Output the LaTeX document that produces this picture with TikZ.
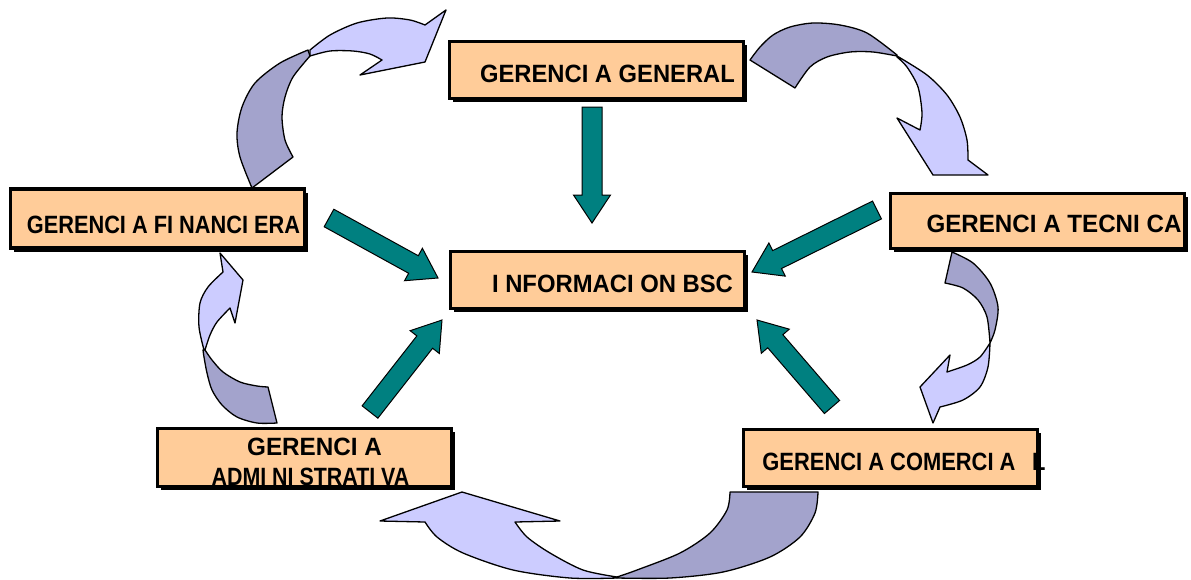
\documentclass[tikz,border=0pt]{standalone}
\usepackage{fontspec}
\setmainfont{Liberation Sans}
\usetikzlibrary{calc,shadows}
\definecolor{peach}{RGB}{255,204,153}
\definecolor{tealfill}{RGB}{0,128,128}
\definecolor{lavlight}{RGB}{204,204,255}
\definecolor{lavdark}{RGB}{163,163,204}

\tikzset{
  box/.style={draw=black, line width=3.5pt, fill=peach, minimum width=294pt,
    minimum height=57pt, inner sep=0pt, outer sep=0pt,
    drop shadow={shadow xshift=3.5pt, shadow yshift=-3.5pt, fill=black, opacity=1}},
  lbl/.style={font=\fontsize{25pt}{28pt}\selectfont\bfseries, inner sep=0pt, text=black},
  lavfront/.style={fill=lavlight, draw=black, line width=1.3pt, line join=round},
  lavback/.style={fill=lavdark, draw=black, line width=1.3pt, line join=round},
  tealarr/.style={fill=tealfill, draw=black, line width=1pt, line join=miter},
}

% straight block arrow from #1 to #2
\newcommand\tealarrow[2]{%
  \filldraw[tealarr] let \p1=(#1), \p2=(#2),
    \n1={atan2(\y2-\y1,\x2-\x1)}, \n2={veclen(\x2-\x1,\y2-\y1)} in
    [shift={(\p1)}, rotate=\n1]
    (0pt,10pt) -- ({\n2*1pt-28pt},10pt) -- ({\n2*1pt-28pt},18.5pt) -- ({\n2*1pt},0pt)
    -- ({\n2*1pt-28pt},-18.5pt) -- ({\n2*1pt-28pt},-10pt) -- (0pt,-10pt) -- cycle;}

\begin{document}
\begin{tikzpicture}[x=1pt,y=-1pt]
\fill[white] (0,0) rectangle (1191,579);
\useasboundingbox (0,0) rectangle (1191,579);
\clip (0,0) rectangle (1191,579);

% ---- curved arrows of the cycle ----
% financiera -> general
\filldraw[lavfront] (310,56) -- plot[smooth] coordinates {(310,50) (330,35) (357,23) (387,18) (410,20) (425,25)}
  -- (446,10) -- (425,62) -- (360,75) -- (382,60)
  -- plot[smooth] coordinates {(382,60) (370,54) (353,51) (330,51) (310,56)} -- cycle;
\filldraw[lavback] (252,188) -- plot[smooth] coordinates {(252,188) (240,157) (237,133) (242,107) (255,83) (280,63) (308,50)}
  -- plot[smooth] coordinates {(310,56) (293,77) (285,97) (282,117) (285,140) (293,157)} -- cycle;

% general -> tecnica
\filldraw[lavfront] (897,56) -- plot[smooth] coordinates {(897,56) (927,75) (947,95) (960,117) (967,140) (968,160)}
  -- (988,175) -- (933,175) -- (897,118) -- (920,130)
  -- plot[smooth] coordinates {(920,130) (922,113) (918,87) (907,67) (897,57)} -- cycle;
\filldraw[lavback] (750,60) -- plot[smooth] coordinates {(750,60) (760,47) (773,35) (790,27) (813,23) (840,25) (867,33) (897,55)}
  -- plot[smooth] coordinates {(897,56) (873,52) (850,52) (827,57) (810,67) (795,88)} -- cycle;

% tecnica -> comercial
\filldraw[lavfront] (990,343) -- plot[smooth] coordinates {(990,343) (988,367) (980,387) (963,400) (940,407)}
  -- (933,423) -- (920,387) -- (950,355) -- (947,372)
  -- plot[smooth] coordinates {(947,372) (967,365) (980,357) (990,343)} -- cycle;
\filldraw[lavback] (952,252) -- plot[smooth] coordinates {(952,252) (973,263) (990,283) (998,307) (995,330) (990,343)}
  -- plot[smooth] coordinates {(990,343) (987,317) (978,300) (963,288) (945,283)} -- cycle;

% comercial -> administrativa
\filldraw[lavfront] (617,578) -- plot[smooth] coordinates {(617,578) (570,578) (513,570) (463,553) (437,537) (425,522)}
  -- (380,521) -- (462,492) -- (560,521) -- (515,522)
  -- plot[smooth] coordinates {(515,522) (527,537) (550,553) (583,570) (617,577)} -- cycle;
\filldraw[lavback] (818,492) -- plot[smooth] coordinates {(818,492) (815,513) (800,537) (770,557) (723,572) (670,578) (617,578)}
  -- plot[smooth] coordinates {(617,577) (637,570) (680,553) (710,533) (727,510) (730,492)} -- cycle;

% administrativa -> financiera
\filldraw[lavfront] (204,350) -- plot[smooth] coordinates {(204,350) (199,327) (200,303) (208,287) (223,272)}
  -- (220,253) -- (243,280) -- (235,323) -- (230,308)
  -- plot[smooth] coordinates {(230,308) (217,322) (210,335) (205,350)} -- cycle;
\filldraw[lavback] (277,423) -- plot[smooth] coordinates {(277,423) (257,423) (237,417) (222,405) (212,390) (207,373) (204,357) (203,350)}
  -- plot[smooth] coordinates {(205,350) (212,360) (223,372) (240,382) (257,386) (268,387)} -- cycle;

% ---- boxes ----
\node[box] (gen) at (596.5,70) {};
\node[box, minimum height=59pt] (fin) at (157.5,218.5) {};
\node[box, minimum height=55pt] (tec) at (1037.5,221) {};
\node[box] (bsc) at (597.5,280) {};
\node[box, minimum height=58pt] (adm) at (304.5,457.5) {};
\node[box] (com) at (890.5,458) {};

\node[lbl] (genT) at (607.5,74) {\scalebox{0.95}[1]{GERENCI A GENERAL}};
\node[lbl] (finT) at (163.5,224.5) {\scalebox{0.87}[1]{GERENCI A FI NANCI ERA}};
\node[lbl] (tecT) at (1054,224) {\scalebox{0.966}[1]{GERENCI A TECNI CA}};
\node[lbl] (bscT) at (612.5,284) {\scalebox{0.953}[1]{I NFORMACI ON BSC}};
\node[lbl] (admT1) at (314.5,447) {\scalebox{0.97}[1]{GERENCI A}};
\node[lbl] (admT2) at (310.5,476.5) {\scalebox{0.856}[1]{ADMI NI STRATI VA}};
\node[lbl] (comT) at (904,462) {\scalebox{0.876}[1]{GERENCI A COMERCI A\hspace{19pt}L}};

% ---- arrows into the BSC box ----
\coordinate (g0) at (592,107);  \coordinate (g1) at (592,223);
\coordinate (f0) at (329,218);  \coordinate (f1) at (438,278);
\coordinate (c0) at (877,210);  \coordinate (c1) at (752,272);
\coordinate (a0) at (370,412);  \coordinate (a1) at (442,320);
\coordinate (m0) at (832,407);  \coordinate (m1) at (757,320);
\tealarrow{g0}{g1}
\tealarrow{f0}{f1}
\tealarrow{c0}{c1}
\tealarrow{a0}{a1}
\tealarrow{m0}{m1}
\end{tikzpicture}
\end{document}
